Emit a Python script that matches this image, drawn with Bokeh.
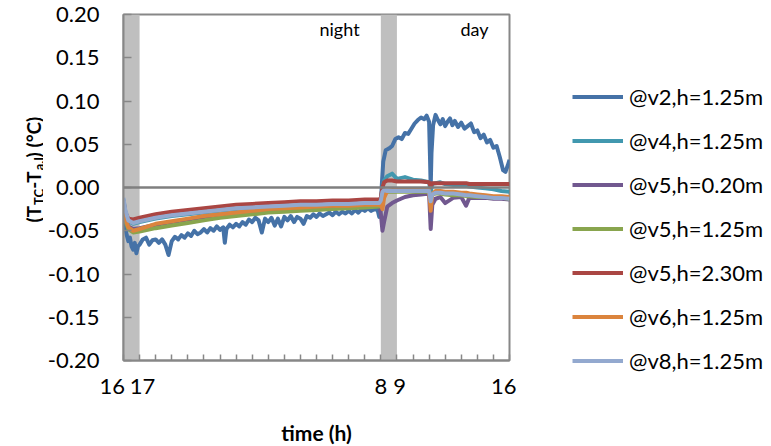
from math import pi

from bokeh.plotting import figure
from bokeh.layouts import row
from bokeh.models import (Range1d, FixedTicker, NumeralTickFormatter, Label,
                          Legend, LegendItem, Span)
from bokeh.embed import file_html
from bokeh.resources import INLINE

# ---------------------------------------------------------------- data
# time axis in hours, 16 h on day one to 16 h on the next day (16 ... 40)
NB = "\u00a0"
hour_ticks = list(range(16, 41))
hour_labels = {16: "16" + NB * 4, 17: NB + "17", 32: "8", 33: NB + "9", 40: "16" + NB * 2}

y_ticks = [-0.20, -0.15, -0.10, -0.05, 0.00, 0.05, 0.10, 0.15, 0.20]

# shaded transition periods
band_start = [16, 32]
band_end = [17, 33]

# sensor v2 at 1.25 m (noisy record)
t_v2 = [16.0, 16.1, 16.2, 16.3, 16.4, 16.5, 16.6, 16.7, 16.8, 16.9,
        17.0, 17.2, 17.4, 17.6, 17.8, 18.0, 18.2, 18.4, 18.6, 18.8,
        19.0, 19.2, 19.4, 19.6, 19.8, 20.0, 20.2, 20.4, 20.6, 20.8,
        21.0, 21.2, 21.4, 21.6, 21.8, 22.0, 22.2, 22.3, 22.4, 22.6,
        22.8, 23.0, 23.2, 23.4, 23.6, 23.8, 24.0, 24.2, 24.4, 24.6,
        24.8, 25.0, 25.2, 25.4, 25.6, 25.8, 26.0, 26.2, 26.4, 26.6,
        26.8, 27.0, 27.2, 27.4, 27.6, 27.8, 28.0, 28.2, 28.4, 28.6,
        28.8, 29.0, 29.2, 29.4, 29.6, 29.8, 30.0, 30.2, 30.4, 30.6,
        30.8, 31.0, 31.2, 31.4, 31.6, 31.8, 31.9, 32.0, 32.05, 32.15,
        32.3, 32.5, 32.7, 32.9, 33.1, 33.3, 33.5, 33.7, 33.9, 34.1,
        34.3, 34.5, 34.7, 34.85, 35.0, 35.05, 35.1, 35.15, 35.25, 35.4,
        35.55, 35.7, 35.85, 36.0, 36.15, 36.3, 36.45, 36.6, 36.8, 37.0,
        37.2, 37.4, 37.6, 37.8, 38.0, 38.2, 38.4, 38.6, 38.8, 39.0,
        39.2, 39.4, 39.6, 39.75, 39.9, 40.0]
v2_125 = [-0.030, -0.045, -0.055, -0.062, -0.058, -0.068, -0.072, -0.064, -0.076, -0.068,
          -0.066, -0.060, -0.058, -0.066, -0.061, -0.060, -0.064, -0.060, -0.066, -0.078,
          -0.062, -0.057, -0.060, -0.055, -0.058, -0.053, -0.056, -0.050, -0.054, -0.052,
          -0.048, -0.052, -0.047, -0.050, -0.045, -0.049, -0.046, -0.064, -0.048, -0.043,
          -0.046, -0.042, -0.045, -0.040, -0.043, -0.037, -0.040, -0.035, -0.038, -0.052,
          -0.036, -0.040, -0.035, -0.044, -0.036, -0.045, -0.034, -0.038, -0.033, -0.040,
          -0.034, -0.036, -0.042, -0.033, -0.035, -0.031, -0.034, -0.030, -0.033, -0.031,
          -0.029, -0.032, -0.028, -0.031, -0.028, -0.030, -0.027, -0.030, -0.026, -0.029,
          -0.025, -0.027, -0.024, -0.027, -0.025, -0.026, -0.034, -0.025, 0.000, 0.030,
          0.043, 0.045, 0.048, 0.056, 0.058, 0.056, 0.063, 0.062, 0.068, 0.074,
          0.078, 0.081, 0.079, 0.083, 0.076, 0.040, 0.000, 0.040, 0.072, 0.084,
          0.078, 0.073, 0.079, 0.071, 0.076, 0.080, 0.072, 0.077, 0.070, 0.075,
          0.068, 0.071, 0.074, 0.064, 0.066, 0.057, 0.061, 0.052, 0.055, 0.046,
          0.048, 0.035, 0.020, 0.018, 0.026, 0.032]

# smoother sensors share one time base
t_s = [16.0, 16.1, 16.3, 16.6, 17.0, 17.5, 18.0, 19.0, 20.0, 21.0,
       22.0, 23.0, 24.0, 25.0, 26.0, 27.0, 28.0, 29.0, 30.0, 31.0,
       31.9, 32.0, 32.1, 32.2, 32.4, 32.7, 33.0, 33.5, 34.0, 34.5,
       35.0, 35.1, 35.2, 35.4, 35.7, 36.0, 36.5, 37.0, 37.3, 37.5,
       38.0, 38.5, 39.0, 39.5, 40.0]
v4_125 = [-0.014, -0.027, -0.039, -0.042, -0.040, -0.038, -0.036, -0.033, -0.031, -0.029,
          -0.027, -0.025, -0.024, -0.023, -0.022, -0.021, -0.021, -0.020, -0.020, -0.019,
          -0.019, -0.015, 0.000, 0.008, 0.013, 0.016, 0.010, 0.012, 0.009, 0.008,
          0.006, -0.005, 0.004, 0.005, 0.006, 0.004, 0.003, 0.002, 0.002, 0.001,
          0.000, -0.001, -0.002, -0.004, -0.005]
v5_020 = [-0.022, -0.036, -0.045, -0.048, -0.047, -0.045, -0.043, -0.040, -0.037, -0.034,
          -0.032, -0.030, -0.028, -0.026, -0.025, -0.024, -0.023, -0.022, -0.022, -0.021,
          -0.021, -0.030, -0.050, -0.040, -0.022, -0.018, -0.015, -0.011, -0.009, -0.008,
          -0.007, -0.048, -0.020, -0.013, -0.011, -0.018, -0.012, -0.011, -0.021, -0.012,
          -0.012, -0.012, -0.013, -0.013, -0.014]
v5_125 = [-0.025, -0.038, -0.048, -0.052, -0.051, -0.049, -0.047, -0.044, -0.041, -0.038,
          -0.035, -0.033, -0.031, -0.029, -0.028, -0.027, -0.026, -0.025, -0.024, -0.023,
          -0.022, -0.018, -0.008, -0.005, -0.005, -0.005, -0.005, -0.005, -0.005, -0.005,
          -0.005, -0.014, -0.008, -0.007, -0.007, -0.008, -0.009, -0.009, -0.010, -0.010,
          -0.011, -0.011, -0.012, -0.012, -0.013]
v5_230 = [-0.015, -0.028, -0.036, -0.037, -0.035, -0.033, -0.031, -0.028, -0.026, -0.024,
          -0.022, -0.020, -0.019, -0.018, -0.017, -0.016, -0.016, -0.015, -0.015, -0.014,
          -0.014, -0.012, 0.000, 0.006, 0.008, 0.008, 0.007, 0.007, 0.007, 0.007,
          0.006, 0.001, 0.005, 0.005, 0.005, 0.005, 0.005, 0.005, 0.005, 0.004,
          0.004, 0.004, 0.004, 0.004, 0.004]
v6_125 = [-0.020, -0.035, -0.046, -0.050, -0.048, -0.045, -0.042, -0.039, -0.036, -0.033,
          -0.031, -0.029, -0.027, -0.025, -0.024, -0.023, -0.022, -0.021, -0.021, -0.020,
          -0.020, -0.020, -0.025, -0.012, -0.004, -0.003, -0.003, -0.003, -0.003, -0.003,
          -0.003, -0.027, -0.008, -0.004, -0.004, -0.005, -0.005, -0.006, -0.006, -0.007,
          -0.008, -0.009, -0.010, -0.010, -0.011]
v8_125 = [-0.012, -0.025, -0.038, -0.041, -0.039, -0.037, -0.035, -0.032, -0.030, -0.028,
          -0.026, -0.024, -0.023, -0.022, -0.021, -0.020, -0.020, -0.019, -0.019, -0.018,
          -0.018, -0.015, -0.005, -0.003, -0.004, -0.004, -0.004, -0.004, -0.004, -0.004,
          -0.004, -0.016, -0.008, -0.006, -0.006, -0.007, -0.007, -0.008, -0.009, -0.009,
          -0.010, -0.011, -0.012, -0.012, -0.013]

series_names = ["@v2,h=1.25m", "@v4,h=1.25m", "@v5,h=0.20m", "@v5,h=1.25m",
                "@v5,h=2.30m", "@v6,h=1.25m", "@v8,h=1.25m"]
series_colors = ["#4572A7", "#4198AF", "#71588F", "#89A54E",
                 "#AA4643", "#DB843D", "#93A9CF"]

# ---------------------------------------------------------------- styling
FONT = "Lato"
AXIS_GREY = "#878787"
TOP, FRAME_H, BOTTOM = 14, 346, 86
FRAME_BOTTOM = TOP + FRAME_H     # 360 px from the top of the page
LEFT_W = 43                       # strip holding the rotated y title

# ---------------------------------------------------------------- main plot
p = figure(frame_width=386, frame_height=FRAME_H,
           x_range=Range1d(16, 40), y_range=Range1d(-0.2, 0.2),
           output_backend="svg", toolbar_location=None,
           min_border_left=80, min_border_right=262,
           min_border_top=TOP, min_border_bottom=BOTTOM,
           background_fill_color="white", border_fill_color="white")
p.xgrid.visible = False
p.ygrid.visible = False
p.outline_line_color = AXIS_GREY
p.outline_line_width = 2

# shaded bands
p.quad(left=band_start, right=band_end, bottom=y_ticks[0], top=y_ticks[-1],
       fill_color="#BFBFBF", line_color=None)

# measurement series
t_sets = [t_v2] + [t_s] * 6
v_sets = [v2_125, v4_125, v5_020, v5_125, v5_230, v6_125, v8_125]
renderers = [p.line(t, v, line_color=c, line_width=4, line_join="round")
             for t, v, c in zip(t_sets, v_sets, series_colors)]

# zero reference
p.add_layout(Span(location=0, dimension="width", line_color="#7F7F7F",
                  line_width=2.5))

# axes
xa = p.xaxis[0]
xa.ticker = FixedTicker(ticks=hour_ticks, minor_ticks=[])
xa.major_label_overrides = {h: hour_labels.get(h, "") for h in hour_ticks}
xa.major_tick_in = 6
xa.major_tick_out = 0
xa.major_label_standoff = 11
xa.axis_label = "time (h)"
xa.axis_label_text_font = FONT
xa.axis_label_text_font_style = "bold"
xa.axis_label_text_font_size = "21px"
xa.axis_label_standoff = 18

ya = p.yaxis[0]
ya.ticker = FixedTicker(ticks=y_ticks, minor_ticks=[])
ya.formatter = NumeralTickFormatter(format="0.00")
ya.major_tick_in = 8
ya.major_tick_out = 0
ya.major_label_standoff = 24

for ax in (xa, ya):
    ax.axis_line_color = AXIS_GREY
    ax.axis_line_width = 2
    ax.major_tick_line_color = AXIS_GREY
    ax.major_tick_line_width = 1.5
    ax.minor_tick_line_color = None
    ax.major_label_text_font = FONT
    ax.major_label_text_font_size = "22px"
    ax.major_label_text_color = "black"
    ax.axis_label_text_color = "black"

# period captions
for txt, sx in (("night", 319), ("day", 460)):
    p.add_layout(Label(x=sx - 123, y=FRAME_BOTTOM - 28, x_units="screen",
                       y_units="screen", text=txt, text_font=FONT,
                       text_font_size="18px", text_align="left",
                       text_baseline="alphabetic", text_color="black"))

# legend in the right-hand border
legend = Legend(items=[LegendItem(label=n, renderers=[r])
                       for n, r in zip(series_names, renderers)],
                location=(63, -14), orientation="vertical",
                label_text_font=FONT, label_text_font_size="22px",
                label_text_color="black",
                glyph_width=51, glyph_height=27, label_height=27,
                label_standoff=6, spacing=17, padding=0, margin=0,
                border_line_alpha=0, background_fill_alpha=0)
p.add_layout(legend, "right")

# ---------------------------------------------------------------- y title
left = figure(frame_width=LEFT_W, frame_height=FRAME_H,
              x_range=Range1d(0, LEFT_W), y_range=Range1d(0, FRAME_H),
              x_axis_location=None, y_axis_location=None,
              output_backend="svg", toolbar_location=None,
              min_border_left=0, min_border_right=0,
              min_border_top=TOP, min_border_bottom=BOTTOM,
              background_fill_color="white", border_fill_color="white")
left.outline_line_color = None
left.xgrid.visible = False
left.ygrid.visible = False

# (T_TC - T_a,I) (°C) with subscripts: text, size, baseline shift, offset along
ylabel_parts = [
    ("(T", "19px", 0, 0.0),
    ("TC", "13px", 5, 17.5),
    ("-T", "19px", 0, 33.8),
    ("a,I", "13px", 5, 52.2),
    (") (°C)", "19px", 0, 65.1),
]
base_x = 33
base_y = FRAME_BOTTOM - 222
for txt, size, dx, dy in ylabel_parts:
    left.add_layout(Label(x=base_x + dx, y=base_y + dy, x_units="screen",
                          y_units="screen", text=txt, angle=pi / 2,
                          text_font=FONT, text_font_style="bold",
                          text_font_size=size, text_align="left",
                          text_baseline="alphabetic", text_color="black"))

layout = row(left, p)

open("out.html", "w").write(file_html(layout, INLINE))
